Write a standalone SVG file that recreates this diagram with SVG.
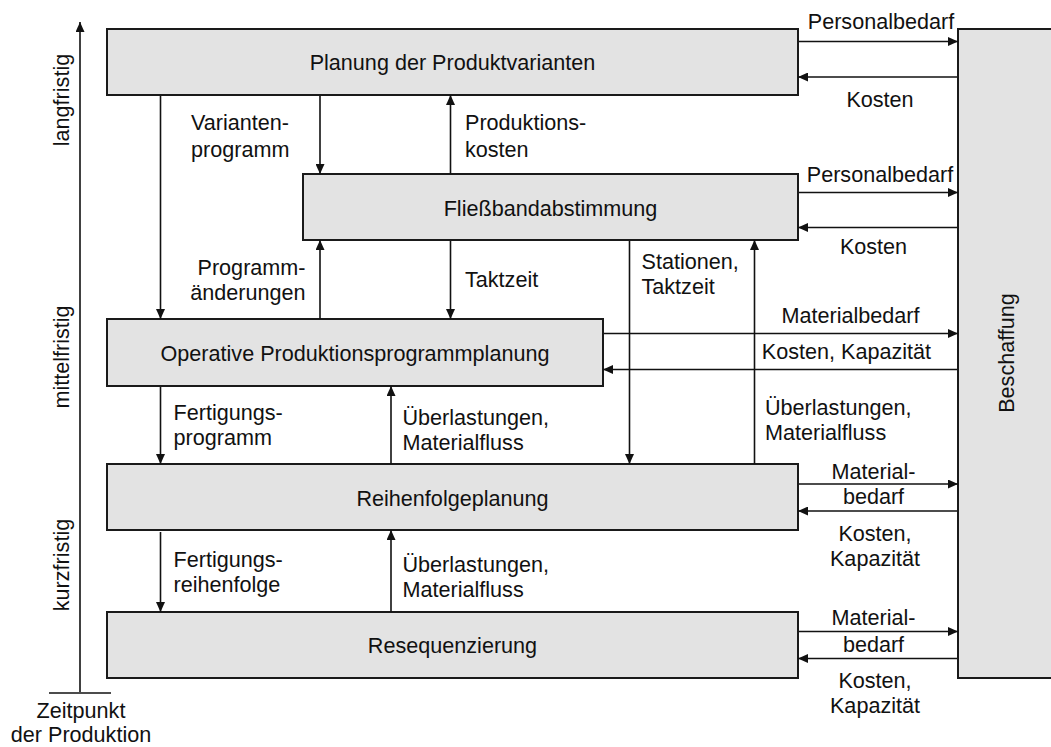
<svg xmlns="http://www.w3.org/2000/svg" width="1051" height="747" viewBox="0 0 1051 747">
<style>
.box{fill:#e3e3e3;stroke:#1a1a1a;stroke-width:2}
.t{font-family:"Liberation Sans",Arial,sans-serif;font-size:21.6px;fill:#111}
.c{text-anchor:middle}
.e{text-anchor:end}
.ln{stroke:#111;stroke-width:1.6;fill:none}
.a{marker-end:url(#ah)}
</style>
<defs>
<marker id="ah" markerUnits="userSpaceOnUse" markerWidth="10" markerHeight="9" refX="10" refY="4.5" orient="auto">
<path d="M0,0 L10,4.5 L0,9 z" fill="#111"/>
</marker>
</defs>
<rect width="1051" height="747" fill="#fff"/>

<g id="zeitachse">
<line class="ln a" x1="80" y1="692" x2="80" y2="22"/>
<line class="ln" x1="49" y1="693" x2="111" y2="693"/>
<text class="t c" x="81" y="718">Zeitpunkt</text>
<text class="t c" x="81" y="742">der Produktion</text>
<text class="t c" transform="translate(69,100) rotate(-90)">langfristig</text>
<text class="t c" transform="translate(69,357) rotate(-90)">mittelfristig</text>
<text class="t c" transform="translate(69,565) rotate(-90)">kurzfristig</text>
</g>

<g id="n-planung">
<rect class="box" x="107" y="29" width="691" height="66"/>
<text class="t c" x="452.5" y="70">Planung der Produktvarianten</text>
</g>
<g id="n-fliessband">
<rect class="box" x="303" y="174" width="495" height="66"/>
<text class="t c" x="550.5" y="215.5">Fließbandabstimmung</text>
</g>
<g id="n-operative">
<rect class="box" x="107" y="319" width="496" height="67"/>
<text class="t c" x="355" y="361">Operative Produktionsprogrammplanung</text>
</g>
<g id="n-reihenfolge">
<rect class="box" x="107" y="464" width="691" height="66"/>
<text class="t c" x="452.5" y="505.5">Reihenfolgeplanung</text>
</g>
<g id="n-resequenzierung">
<rect class="box" x="107" y="612" width="691" height="66"/>
<text class="t c" x="452.5" y="652.5">Resequenzierung</text>
</g>
<g id="n-beschaffung">
<rect class="box" x="958" y="29" width="110" height="649"/>
<text class="t c" transform="translate(1014,353) rotate(-90)">Beschaffung</text>
</g>

<g id="connectors">
<line class="ln a" x1="160.5" y1="96" x2="160.5" y2="319"/>
<line class="ln a" x1="320" y1="96" x2="320" y2="174"/>
<line class="ln a" x1="450.5" y1="174" x2="450.5" y2="95"/>
<line class="ln a" x1="320" y1="319" x2="320" y2="240"/>
<line class="ln a" x1="450.5" y1="241" x2="450.5" y2="319"/>
<line class="ln a" x1="629.5" y1="241" x2="629.5" y2="464"/>
<line class="ln a" x1="754.5" y1="464" x2="754.5" y2="240"/>
<line class="ln a" x1="160.5" y1="387" x2="160.5" y2="464"/>
<line class="ln a" x1="391" y1="464" x2="391" y2="386"/>
<line class="ln a" x1="160.5" y1="532" x2="160.5" y2="612"/>
<line class="ln a" x1="391" y1="612" x2="391" y2="530"/>

<line class="ln a" x1="799" y1="41.5" x2="958" y2="41.5"/>
<line class="ln a" x1="957" y1="77" x2="798" y2="77"/>
<line class="ln a" x1="799" y1="192.5" x2="958" y2="192.5"/>
<line class="ln a" x1="957" y1="227.5" x2="798" y2="227.5"/>
<line class="ln a" x1="604" y1="333.5" x2="958" y2="333.5"/>
<line class="ln a" x1="957" y1="369.5" x2="603" y2="369.5"/>
<line class="ln a" x1="799" y1="484" x2="958" y2="484"/>
<line class="ln a" x1="957" y1="511" x2="798" y2="511"/>
<line class="ln a" x1="799" y1="631.5" x2="958" y2="631.5"/>
<line class="ln a" x1="957" y1="658.5" x2="798" y2="658.5"/>
</g>

<g id="labels">
<text class="t" x="191" y="130">Varianten-</text>
<text class="t" x="191" y="156.5">programm</text>
<text class="t" x="465" y="130">Produktions-</text>
<text class="t" x="465" y="156.5">kosten</text>
<text class="t e" x="305.5" y="275">Programm-</text>
<text class="t e" x="305.5" y="300">änderungen</text>
<text class="t" x="465" y="286.5">Taktzeit</text>
<text class="t" x="641.5" y="268.5">Stationen,</text>
<text class="t" x="641.5" y="293.5">Taktzeit</text>
<text class="t" x="173.5" y="420">Fertigungs-</text>
<text class="t" x="173.5" y="445">programm</text>
<text class="t" x="402.5" y="425">Überlastungen,</text>
<text class="t" x="402.5" y="450">Materialfluss</text>
<text class="t" x="765" y="415">Überlastungen,</text>
<text class="t" x="765" y="440">Materialfluss</text>
<text class="t" x="173.5" y="566.5">Fertigungs-</text>
<text class="t" x="173.5" y="591.5">reihenfolge</text>
<text class="t" x="402.5" y="571.5">Überlastungen,</text>
<text class="t" x="402.5" y="596.5">Materialfluss</text>

<text class="t c" x="881" y="29">Personalbedarf</text>
<text class="t c" x="880" y="106.5">Kosten</text>
<text class="t c" x="880" y="181.5">Personalbedarf</text>
<text class="t c" x="873.5" y="254">Kosten</text>
<text class="t c" x="850.5" y="322.5">Materialbedarf</text>
<text class="t c" x="846.5" y="359">Kosten, Kapazität</text>
<text class="t c" x="873.5" y="479">Material-</text>
<text class="t c" x="873.5" y="504">bedarf</text>
<text class="t c" x="875" y="540.5">Kosten,</text>
<text class="t c" x="875" y="565.5">Kapazität</text>
<text class="t c" x="873.5" y="625">Material-</text>
<text class="t c" x="873.5" y="652">bedarf</text>
<text class="t c" x="875" y="688">Kosten,</text>
<text class="t c" x="875" y="713">Kapazität</text>
</g>
</svg>
